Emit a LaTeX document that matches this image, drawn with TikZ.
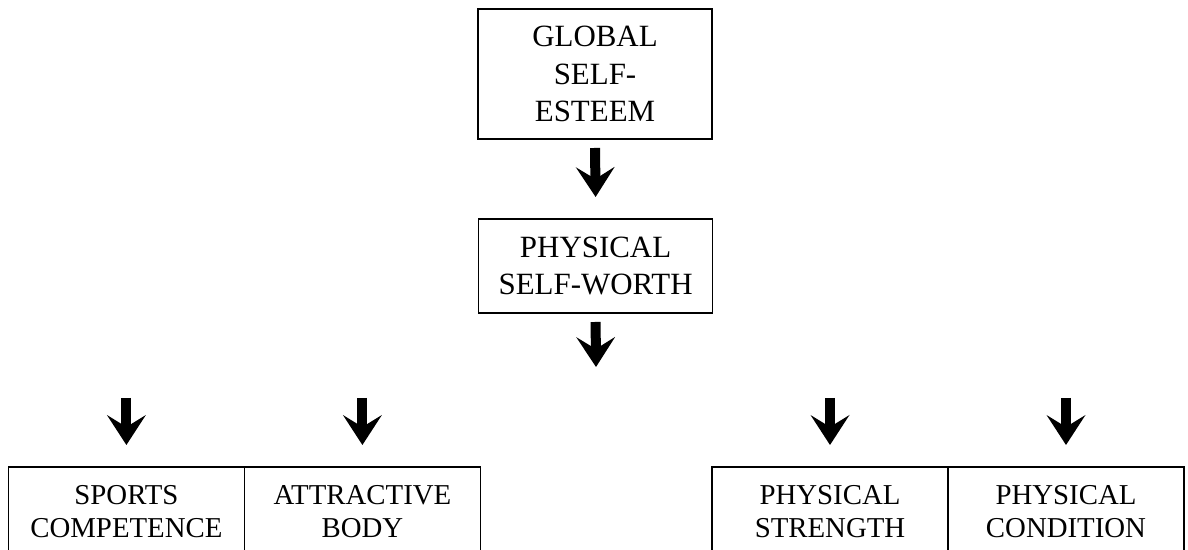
\documentclass[tikz,border=0pt]{standalone}
\usepackage{fontspec}
\setmainfont{Liberation Serif}
\usetikzlibrary{arrows.meta, positioning}

\begin{document}
\begin{tikzpicture}[
    box/.style={draw, line width=1.2pt, align=center, inner sep=0pt, outer sep=0pt,
        font=\fontsize{22}{26.7}\selectfont},
    topbox/.style={box, minimum width=5.85cm},
    cell/.style={box, minimum width=5.9cm, minimum height=2.225cm,
        font=\fontsize{20.5}{23.4}\selectfont},
    fat/.style={line width=0.25cm,
        -{Stealth[length=0.75cm, width=0.975cm, inset=0.3cm, line width=0pt]}},
]
    \clip (0,0) rectangle (29.7,13.75);

    \node[topbox, minimum height=3.25cm] (global)   at (14.875,11.9)  {GLOBAL\\SELF-\\ESTEEM};
    \node[topbox, minimum height=2.35cm] (worth)    at (14.89,7.1)    {PHYSICAL\\SELF-WORTH};

    \node[cell]                          (sports)   at (3.16,0.9625)  {SPORTS\\COMPETENCE};
    \node[cell, right=0cm of sports]     (body)                       {ATTRACTIVE\\BODY};
    \node[cell]                          (strength) at (20.75,0.9625) {PHYSICAL\\STRENGTH};
    \node[cell, right=0cm of strength]   (cond)                       {PHYSICAL\\CONDITION};

    \coordinate (worthout) at (14.9,4.575);

    \draw[fat] ([yshift=-0.225cm]global.south) -- ([yshift=0.55cm]worth.north);
    \draw[fat] ([yshift=-0.225cm]worth.south)  -- (worthout);
    \foreach \n in {sports, body, strength, cond}
        \draw[fat] ([yshift=1.725cm]\n.north) -- ([yshift=0.55cm]\n.north);
\end{tikzpicture}
\end{document}
